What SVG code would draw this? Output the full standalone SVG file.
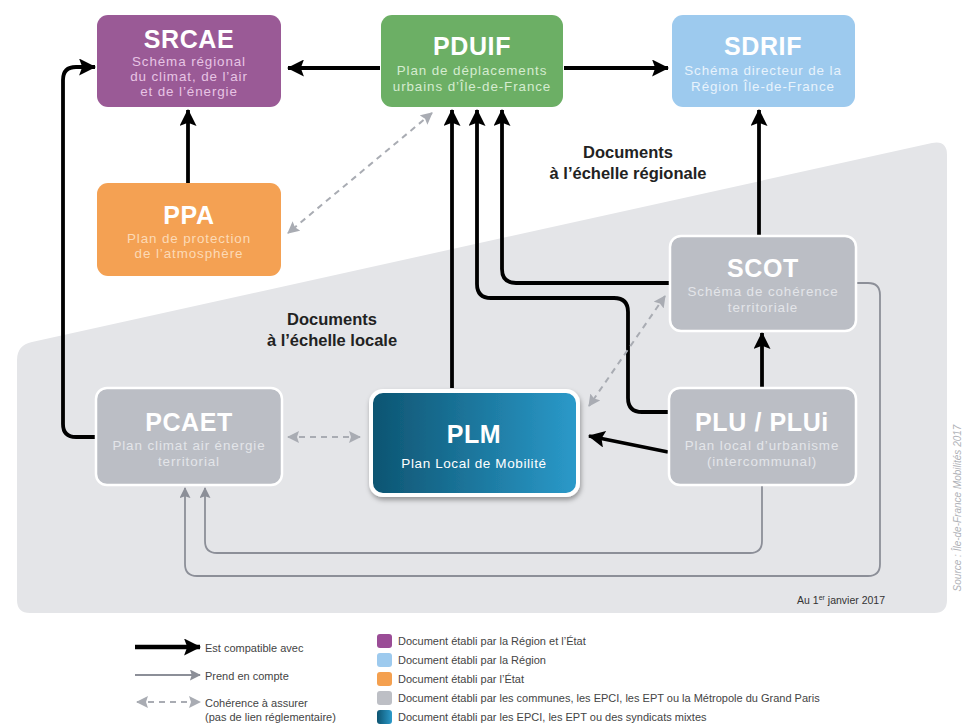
<svg xmlns="http://www.w3.org/2000/svg" width="966" height="725" viewBox="0 0 966 725">
<defs>
<style>
.t{font-family:"Liberation Sans",Arial,sans-serif;font-weight:700;font-size:25px;letter-spacing:0.6px;fill:#fff;text-anchor:middle}
.s{font-family:"Liberation Sans",Arial,sans-serif;font-size:13.4px;letter-spacing:0.9px;text-anchor:middle}
.g{fill:#BBBEC5;stroke:#fff;stroke-width:2.5}
.gs{fill:#E3E5E9}
.blk{fill:none;stroke:#000;stroke-width:3.8;marker-end:url(#ab)}
.gry{fill:none;stroke:#8C8F98;stroke-width:1.8;marker-end:url(#ag)}
.dsh{fill:none;stroke:#A9ACB3;stroke-width:2;stroke-dasharray:6 5;marker-start:url(#ad);marker-end:url(#ad)}
.lbl{font-family:"Liberation Sans",Arial,sans-serif;font-weight:700;font-size:16.5px;fill:#222;text-anchor:middle}
.lg{font-family:"Liberation Sans",Arial,sans-serif;font-size:11px;fill:#444}
</style>
<marker id="ab" viewBox="0 0 16 16" refX="15" refY="8" markerWidth="17" markerHeight="17" markerUnits="userSpaceOnUse" orient="auto"><polygon points="0,0 16,8 0,16 3,8" fill="#000"/></marker>
<marker id="ag" viewBox="0 0 12 12" refX="11" refY="6" markerWidth="11" markerHeight="11" markerUnits="userSpaceOnUse" orient="auto"><polygon points="0,0 12,6 0,12 2,6" fill="#8C8F98"/></marker>
<marker id="ad" viewBox="0 0 12 12" refX="11" refY="6" markerWidth="12" markerHeight="12" markerUnits="userSpaceOnUse" orient="auto-start-reverse"><polygon points="0,0 12,6 0,12 2,6" fill="#A9ACB3"/></marker>
<linearGradient id="plm" x1="0" y1="0" x2="1" y2="0"><stop offset="0" stop-color="#0D5471"/><stop offset="1" stop-color="#2B9ACA"/></linearGradient>
<filter id="sh" x="-10%" y="-10%" width="125%" height="130%"><feDropShadow dx="1" dy="3" stdDeviation="2.5" flood-color="#000" flood-opacity="0.35"/></filter>
</defs>
<rect width="966" height="725" fill="#fff"/>
<path d="M17 360 Q17 345 32 342 L932 143 Q947 140 947 155 L947 600 Q947 613 934 613 L30 613 Q17 613 17 600 Z" fill="#E4E5E8"/>

<g id="connectors">
<path class="blk" d="M380 68 L288 68"/>
<path class="blk" d="M564 68 L668 68"/>
<path class="blk" d="M188 183 L188 110"/>
<path class="blk" d="M96 437 L76 437 Q63 437 63 424 L63 80 Q63 67 76 67 L95 67"/>
<path class="blk" d="M452 388 L452 110"/>
<path class="blk" d="M669 412 L642 412 Q628 412 628 398 L628 312 Q628 298 614 298 L491 298 Q477 298 477 284 L477 110"/>
<path class="blk" d="M670 283 L516 283 Q502 283 502 269 L502 110"/>
<path class="blk" d="M759 235 L759 110"/>
<path class="blk" d="M762 388 L762 333"/>
<path class="blk" d="M668 452 L589 436"/>
<path class="dsh" d="M432 113 L288 233"/>
<path class="dsh" d="M288 437 L360 437"/>
<path class="dsh" d="M665 296 L589 406"/>
<path class="gry" d="M857 283 L868 283 Q880 283 880 295 L880 564 Q880 576 868 576 L197 576 Q185 576 185 564 L185 488"/>
<path class="gry" d="M762 486 L762 541 Q762 553 750 553 L217 553 Q205 553 205 541 L205 488"/>
</g>

<g id="SRCAE">
<rect x="97" y="15" width="184" height="92" rx="11" fill="#9A5A96"/>
<text class="t" x="189" y="48">SRCAE</text>
<text class="s" fill="#E7C4E4" x="189" y="66">Schéma régional</text>
<text class="s" fill="#E7C4E4" x="189" y="81.2">du climat, de l’air</text>
<text class="s" fill="#E7C4E4" x="189" y="96.4">et de l’énergie</text>
</g>
<g id="PDUIF">
<rect x="381" y="15" width="182" height="92" rx="11" fill="#6CAF65"/>
<text class="t" x="472" y="55">PDUIF</text>
<text class="s" fill="#D5ECD0" x="472" y="75">Plan de déplacements</text>
<text class="s" fill="#D5ECD0" x="472" y="91">urbains d’Île-de-France</text>
</g>
<g id="SDRIF">
<rect x="672" y="15" width="183" height="92" rx="11" fill="#9DCAEE"/>
<text class="t" x="763" y="55">SDRIF</text>
<text class="s" fill="#E8F3FC" x="763" y="75">Schéma directeur de la</text>
<text class="s" fill="#E8F3FC" x="763" y="91">Région Île-de-France</text>
</g>
<g id="PPA">
<rect x="97" y="183" width="184" height="93" rx="11" fill="#F4A153"/>
<text class="t" x="189" y="224">PPA</text>
<text class="s" fill="#FCDAB6" x="189" y="242.5">Plan de protection</text>
<text class="s" fill="#FCDAB6" x="189" y="258">de l’atmosphère</text>
</g>
<g id="SCOT">
<rect class="g" x="670" y="236" width="186" height="95" rx="11"/>
<text class="t" x="763" y="277">SCOT</text>
<text class="s gs" x="763" y="296">Schéma de cohérence</text>
<text class="s gs" x="763" y="312">territoriale</text>
</g>
<g id="PCAET">
<rect class="g" x="96" y="388" width="186" height="97" rx="11"/>
<text class="t" x="189" y="431">PCAET</text>
<text class="s gs" x="189" y="449.5">Plan climat air énergie</text>
<text class="s gs" x="189" y="466">territorial</text>
</g>
<g id="PLM">
<rect x="371" y="391" width="207" height="104" rx="12" fill="url(#plm)" stroke="#fff" stroke-width="4" filter="url(#sh)"/>
<text class="t" x="474" y="443">PLM</text>
<text x="474" y="468" font-family="'Liberation Sans Narrow','Liberation Sans',sans-serif" font-size="13.5" fill="#fff" text-anchor="middle" letter-spacing="0.6">Plan Local de Mobilité</text>
</g>
<g id="PLU">
<rect class="g" x="669" y="388" width="187" height="97" rx="11"/>
<text class="t" x="762" y="431">PLU / PLUi</text>
<text class="s gs" x="762" y="449.5">Plan local d’urbanisme</text>
<text class="s gs" x="762" y="466">(intercommunal)</text>
</g>

<g id="labels">
<text class="lbl" x="628" y="158">Documents</text>
<text class="lbl" x="628" y="179">à l’échelle régionale</text>
<text class="lbl" x="332" y="325">Documents</text>
<text class="lbl" x="332" y="346">à l’échelle locale</text>
<text x="885" y="604" font-family="'Liberation Sans',Arial,sans-serif" font-size="10.5" fill="#333" text-anchor="end">Au 1<tspan font-size="7" dy="-4">er</tspan><tspan dy="4"> janvier 2017</tspan></text>
<text transform="translate(961 508) rotate(-90)" font-family="'Liberation Sans',Arial,sans-serif" font-style="italic" font-size="10" fill="#B0B2B7" text-anchor="middle">Source : Île-de-France Mobilités 2017</text>
</g>

<g id="legend">
<path d="M135 647 L200 647" fill="none" stroke="#000" stroke-width="4.5" marker-end="url(#ab)"/>
<path d="M135 675 L200 675" fill="none" stroke="#8C8F98" stroke-width="2" marker-end="url(#ag)"/>
<path d="M137 702 L200 702" class="dsh"/>
<text class="lg" x="205" y="652">Est compatible avec</text>
<text class="lg" x="205" y="680">Prend en compte</text>
<text class="lg" x="205" y="707">Cohérence à assurer</text>
<text class="lg" x="205" y="721">(pas de lien réglementaire)</text>
<rect x="377" y="634" width="15" height="14" rx="3" fill="#9A4C96"/>
<rect x="377" y="653" width="15" height="14" rx="3" fill="#9DCAEE"/>
<rect x="377" y="672" width="15" height="14" rx="3" fill="#F4A04F"/>
<rect x="377" y="691" width="15" height="14" rx="3" fill="#BDBFC5"/>
<rect x="377" y="710" width="15" height="14" rx="3" fill="url(#plm)"/>
<text class="lg" x="398" y="645">Document établi par la Région et l’État</text>
<text class="lg" x="398" y="664">Document établi par la Région</text>
<text class="lg" x="398" y="683">Document établi par l’État</text>
<text class="lg" x="398" y="702">Document établi par les communes, les EPCI, les EPT ou la Métropole du Grand Paris</text>
<text class="lg" x="398" y="721">Document établi par les EPCI, les EPT ou des syndicats mixtes</text>
</g>
</svg>
